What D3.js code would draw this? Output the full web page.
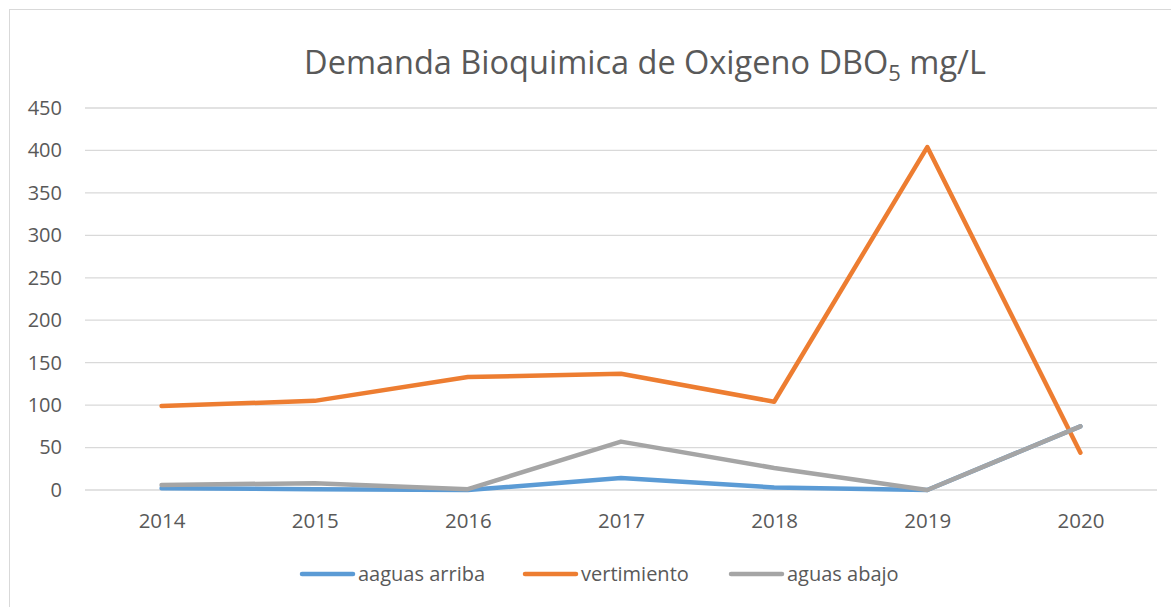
<!DOCTYPE html>
<html>
<head>
<meta charset="utf-8">
<script src="https://cdn.jsdelivr.net/npm/d3@7"></script>
<style>
  body { margin: 0; background: #fff; }
  text { font-family: "Open Sans", "Noto Sans", sans-serif; fill: #595959; }
</style>
</head>
<body>
<script>
// chart data
var years = ["2014", "2015", "2016", "2017", "2018", "2019", "2020"];
var aguasArriba = [2, 1, 0, 14, 3, 0, 75];
var vertimiento = [99, 105, 133, 137, 104, 404, 44];
var aguasAbajo = [6, 8, 1, 57, 26, 0, 75];
var yTicks = [0, 50, 100, 150, 200, 250, 300, 350, 400, 450];

var series = [
  { name: "aaguas arriba", values: aguasArriba, color: "#5B9BD5" },
  { name: "vertimiento", values: vertimiento, color: "#ED7D31" },
  { name: "aguas abajo", values: aguasAbajo, color: "#A5A5A5" }
];

var WIDTH = 1171, HEIGHT = 607;
// plot area (don't use "top" as a global, it clashes with window.top)
var plotLeft = 85, plotRight = 1157, plotTop = 108, plotBottom = 490;

var svg = d3.select("body").append("svg")
    .attr("width", WIDTH)
    .attr("height", HEIGHT);

// chart area border
svg.append("rect")
    .attr("x", 9.5).attr("y", 9.5)
    .attr("width", 1180).attr("height", 620)
    .attr("fill", "none")
    .attr("stroke", "#D9D9D9");

var x = d3.scalePoint().domain(years).range([plotLeft, plotRight]).padding(0.5);
var y = d3.scaleLinear().domain([0, 450]).range([plotBottom, plotTop]);

// gridlines
svg.append("g").selectAll("line")
  .data(yTicks)
  .enter().append("line")
    .attr("x1", plotLeft).attr("x2", plotRight)
    .attr("y1", function(d) { return y(d); })
    .attr("y2", function(d) { return y(d); })
    .attr("stroke", "#D9D9D9")
    .attr("stroke-width", 1.3);

// y axis labels
var yAxis = svg.append("g")
    .attr("transform", "translate(" + (plotLeft - 23) + ",0)")
    .call(d3.axisLeft(y).tickValues(yTicks).tickSize(0).tickPadding(0));
yAxis.select(".domain").remove();
yAxis.selectAll("text")
    .style("font-size", "20px")
    .attr("fill", "#595959");

// x axis labels
var xAxis = svg.append("g")
    .attr("transform", "translate(0," + (plotBottom + 23) + ")")
    .call(d3.axisBottom(x).tickSize(0).tickPadding(0));
xAxis.select(".domain").remove();
xAxis.selectAll("text")
    .style("font-size", "20.5px")
    .attr("fill", "#595959");
svg.selectAll(".tick text").attr("font-family", null);

// lines
var line = d3.line()
    .x(function(d, i) { return x(years[i]); })
    .y(function(d) { return y(d); });

svg.append("g").selectAll("path")
  .data(series)
  .enter().append("path")
    .attr("d", function(s) { return line(s.values); })
    .attr("fill", "none")
    .attr("stroke", function(s) { return s.color; })
    .attr("stroke-width", 4.5)
    .attr("stroke-linecap", "round")
    .attr("stroke-linejoin", "round");

// title with subscript
var title = svg.append("text")
    .attr("x", 645).attr("y", 74)
    .attr("text-anchor", "middle")
    .style("font-size", "32.5px");
title.append("tspan").text("Demanda Bioquimica de Oxigeno DBO");
title.append("tspan").text("5").style("font-size", "22px").attr("dy", 7);
title.append("tspan").text(" mg/L").attr("dy", -7);

// legend
var legendX = [300, 523, 729];
var legend = svg.append("g").selectAll("g")
  .data(series)
  .enter().append("g")
    .attr("transform", function(s, i) { return "translate(" + legendX[i] + ",574)"; });
legend.append("line")
    .attr("x1", 2).attr("x2", 53)
    .attr("stroke", function(s) { return s.color; })
    .attr("stroke-width", 4.5)
    .attr("stroke-linecap", "round");
legend.append("text")
    .attr("x", 58).attr("y", 7)
    .style("font-size", "20px")
    .text(function(s) { return s.name; });
</script>
</body>
</html>
